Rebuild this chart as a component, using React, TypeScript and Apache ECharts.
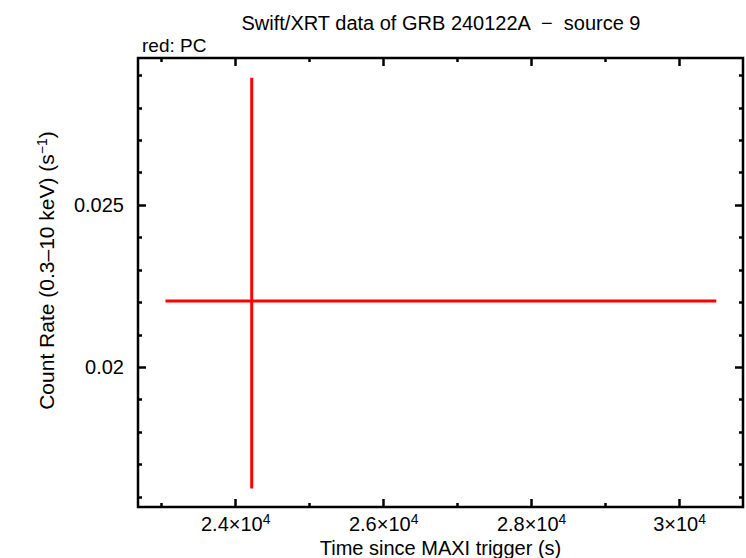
import React, { useEffect, useRef } from "react";
import * as echarts from "echarts";

const xMajorTicks = [24000, 26000, 28000, 30000];
const xMinorTicks = [23000, 25000, 27000, 29000];
const yMajorTicks = [0.02, 0.025];
const yMinorTicks = [0.016, 0.017, 0.018, 0.019, 0.021, 0.022, 0.023, 0.024, 0.026, 0.027, 0.028, 0.029];

// [time, rate, timeLo, timeHi, rateLo, rateHi]
const pcPoints = [[24216, 0.02204, 23050, 30496, 0.01626, 0.02893]];

const xRange = [22679, 30857];
const yRange = [0.015688, 0.029537];

const FONT = "Liberation Sans, Arial, Helvetica, sans-serif";

function fmtX(v: number) {
  const m = Math.round((v / 10000) * 10) / 10;
  return `{a|${m}×10}{s|4}`;
}

export default function App() {
  const ref = useRef<HTMLDivElement>(null);
  useEffect(() => {
    const chart = echarts.init(ref.current!, null, { renderer: "svg" });
    const labelRich = {
      a: { fontSize: 20, fontFamily: FONT, color: "#000" },
      s: { fontSize: 14, fontFamily: FONT, color: "#000", padding: [0, 0, 9, 0] },
    };
    const baseX = {
      type: "value",
      min: xRange[0],
      max: xRange[1],
      splitLine: { show: false },
      axisLine: { show: false },
    };
    const baseY = {
      type: "value",
      min: yRange[0],
      max: yRange[1],
      splitLine: { show: false },
      axisLine: { show: false },
    };
    const option: any = {
      animation: false,
      backgroundColor: "#fff",
      title: [
        {
          text: "Swift/XRT data of GRB 240122A  −  source 9",
          left: 436,
          textAlign: "center",
          top: 8,
          textStyle: { fontSize: 20, fontWeight: "normal", fontFamily: FONT, color: "#000" },
        },
        {
          text: "red: PC",
          left: 137,
          top: 31,
          textStyle: { fontSize: 19, fontWeight: "normal", fontFamily: FONT, color: "#000" },
        },
      ],
      grid: {
        left: 138,
        top: 58,
        right: 3,
        bottom: 51,
        outerBoundsMode: "none",
        containLabel: false,
        show: true,
        borderColor: "#000",
        borderWidth: 2.5,
        backgroundColor: "transparent",
      },
      xAxis: [
        {
          ...baseX,
          position: "bottom",
          name: "Time since MAXI trigger (s)",
          nameLocation: "middle",
          nameGap: 30,
          nameTextStyle: { fontSize: 20, fontFamily: FONT, color: "#000" },
          axisTick: { show: true, inside: true, length: 8, lineStyle: { color: "#000", width: 2.5 }, customValues: xMajorTicks },
          axisLabel: { show: true, margin: 5, customValues: xMajorTicks, formatter: fmtX, rich: labelRich },
        },
        {
          ...baseX,
          position: "bottom",
          axisTick: { show: true, inside: true, length: 4, lineStyle: { color: "#000", width: 2.5 }, customValues: xMinorTicks },
          axisLabel: { show: false },
        },
        {
          ...baseX,
          position: "top",
          axisTick: { show: true, inside: true, length: 8, lineStyle: { color: "#000", width: 2.5 }, customValues: xMajorTicks },
          axisLabel: { show: false },
        },
        {
          ...baseX,
          position: "top",
          axisTick: { show: true, inside: true, length: 4, lineStyle: { color: "#000", width: 2.5 }, customValues: xMinorTicks },
          axisLabel: { show: false },
        },
      ],
      yAxis: [
        {
          ...baseY,
          position: "left",
          name: "Count Rate (0.3–10 keV) (s{s|−1})",
          nameLocation: "middle",
          nameGap: 80,
          nameTextStyle: {
            fontSize: 21,
            fontFamily: FONT,
            color: "#000",
            padding: [0, 0, 0, 24],
            rich: { s: { fontSize: 14, fontFamily: FONT, color: "#000", padding: [0, 0, 9, 0] } },
          },
          axisTick: { show: true, inside: true, length: 8, lineStyle: { color: "#000", width: 2.5 }, customValues: yMajorTicks },
          axisLabel: {
            show: true,
            margin: 14,
            customValues: yMajorTicks,
            fontSize: 20,
            fontFamily: FONT,
            color: "#000",
            formatter: (v: number) => String(Math.round(v * 1000) / 1000),
          },
        },
        {
          ...baseY,
          position: "left",
          axisTick: { show: true, inside: true, length: 4, lineStyle: { color: "#000", width: 2.5 }, customValues: yMinorTicks },
          axisLabel: { show: false },
        },
        {
          ...baseY,
          position: "right",
          axisTick: { show: true, inside: true, length: 8, lineStyle: { color: "#000", width: 2.5 }, customValues: yMajorTicks },
          axisLabel: { show: false },
        },
        {
          ...baseY,
          position: "right",
          axisTick: { show: true, inside: true, length: 4, lineStyle: { color: "#000", width: 2.5 }, customValues: yMinorTicks },
          axisLabel: { show: false },
        },
      ],
      series: [
        {
          type: "custom",
          xAxisIndex: 0,
          yAxisIndex: 0,
          data: pcPoints,
          renderItem: (params: any, api: any) => {
            const x = api.value(0);
            const y = api.value(1);
            const xl = api.value(2);
            const xh = api.value(3);
            const yl = api.value(4);
            const yh = api.value(5);
            const p1 = api.coord([xl, y]);
            const p2 = api.coord([xh, y]);
            const p3 = api.coord([x, yl]);
            const p4 = api.coord([x, yh]);
            const style = { stroke: "#ff0000", lineWidth: 3 };
            return {
              type: "group",
              children: [
                { type: "line", shape: { x1: p1[0], y1: p1[1], x2: p2[0], y2: p2[1] }, style },
                { type: "line", shape: { x1: p3[0], y1: p3[1], x2: p4[0], y2: p4[1] }, style },
              ],
            };
          },
        },
      ],
    };
    chart.setOption(option);
    return () => chart.dispose();
  }, []);
  return <div ref={ref} style={{ width: 746, height: 558, position: "absolute", left: 0, top: 0 }} />;
}
